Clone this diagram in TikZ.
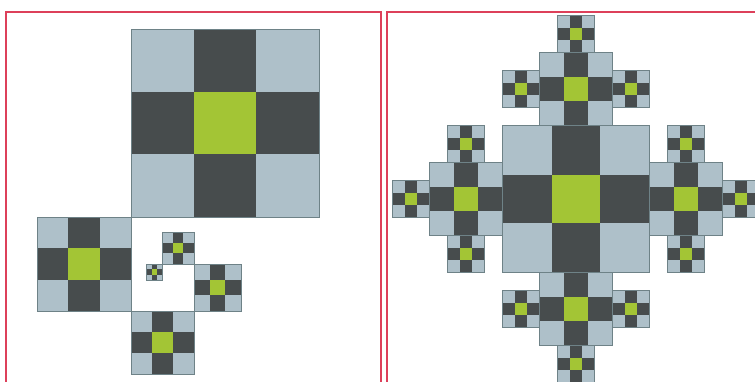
\documentclass[tikz,border=0pt]{standalone}
\definecolor{lite}{RGB}{174,192,201}
\definecolor{darkc}{RGB}{71,76,77}
\definecolor{grn}{RGB}{163,197,53}
\definecolor{edgec}{RGB}{110,130,135}
\definecolor{framec}{RGB}{221,64,90}
\tikzset{
  litecell/.style={fill=lite},
  darkcell/.style={fill=darkc},
  grncell/.style={fill=grn},
  sqedge/.style={draw=edgec, line width=0.9pt},
  panelframe/.style={draw=framec, line width=2.4pt}
}
\newcommand\fsq[3]{%
  \begin{scope}[shift={({#1},{#2})},scale={(#3)/3}]
    \fill[litecell] (0,0) rectangle (3,3);
    \fill[darkcell] (1,0) rectangle (2,3);
    \fill[darkcell] (0,1) rectangle (3,2);
    \fill[grncell] (1,1) rectangle (2,2);
    \draw[sqedge] (0,0) rectangle (3,3);
  \end{scope}}
\newcommand\fsqc[3]{\fsq{(#1)-(#3)/2}{(#2)-(#3)/2}{#3}}
\begin{document}
\begin{tikzpicture}[x=1pt,y=-1pt]
  \useasboundingbox (0,0) rectangle (755,382);
  \fill[white] (0,0) rectangle (755,382);
  \clip (0,0) rectangle (755,382);
  % left panel: spiral
  \fsq{131}{29}{188}
  \fsq{37}{217}{94}
  \fsq{131}{311}{63}
  \fsq{194}{264}{47}
  \fsq{162}{232}{32}
  \fsq{146.5}{264}{16}
  % right panel: cross fractal
  \def\S{146.5}
  \foreach \dx/\dy in {0/-1,1/0,0/1,-1/0}{
    \foreach \ex/\ey in {0/-1,1/0,0/1,-1/0}{
      \pgfmathtruncatemacro\opp{((\ex+\dx)==0)&&((\ey+\dy)==0)}
      \ifnum\opp=0
        \fsqc{576+(\dx)*0.75*\S+(\ex)*0.375*\S}{199+(\dy)*0.75*\S+(\ey)*0.375*\S}{\S/4}
      \fi
    }
    \fsqc{576+(\dx)*0.75*\S}{199+(\dy)*0.75*\S}{\S/2}
  }
  \fsqc{576}{199}{\S}
  % frames
  \draw[panelframe] (6.2,400) -- (6.2,12) -- (381,12) -- (381,400);
  \draw[panelframe] (387.2,400) -- (387.2,11.8) -- (770,11.8);
\end{tikzpicture}
\end{document}
